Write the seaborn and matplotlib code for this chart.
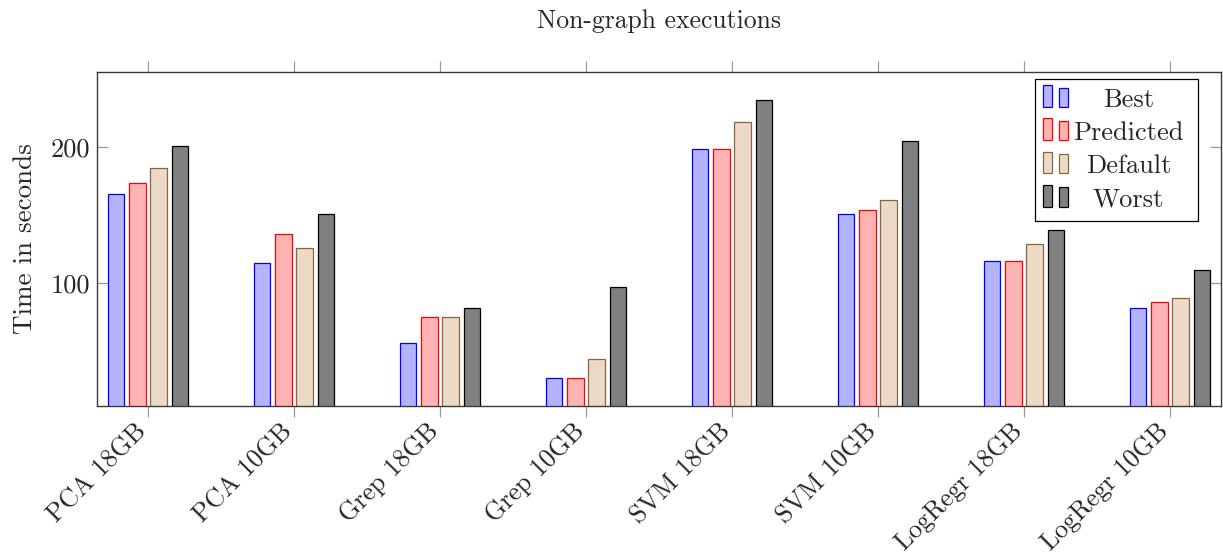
import matplotlib
matplotlib.use("Agg")
import numpy as np
import pandas as pd
import matplotlib.pyplot as plt
import seaborn as sns
from matplotlib.patches import Rectangle, Patch
from matplotlib.text import Text
from matplotlib.legend_handler import HandlerBase

# ---- data -------------------------------------------------------------
benchmarks = ["PCA 18GB", "PCA 10GB", "Grep 18GB", "Grep 10GB",
              "SVM 18GB", "SVM 10GB", "LogRegr 18GB", "LogRegr 10GB"]
configs = ["Best", "Predicted", "Default", "Worst"]

best = [166, 115, 56, 30, 199, 151, 116, 82]
predicted = [174, 136, 75, 30, 199, 154, 116, 86]
default = [185, 126, 75, 44, 219, 161, 129, 89]
worst = [201, 151, 82, 97, 235, 205, 139, 110]

y_ticks = [100, 200]

# ---- styling ----------------------------------------------------------
fills = ["#B3B3FF", "#FFB3B3", "#ECD9C6", "#808080"]
edges = ["#0000FF", "#FF0000", "#8A6540", "#000000"]

sns.set_style("white")
plt.rcParams.update({
    "font.family": ["cmr10", "DejaVu Serif"],
    "mathtext.fontset": "cm",
    "axes.formatter.use_mathtext": True,
    "font.size": 19,
    "axes.titlesize": 18.5,
    "axes.labelsize": 19.5,
    "xtick.labelsize": 18.6,
    "ytick.labelsize": 19,
    "legend.fontsize": 19,
    "axes.unicode_minus": False,
})

df = pd.DataFrame({
    "Benchmark": np.tile(benchmarks, len(configs)),
    "Config": np.repeat(configs, len(benchmarks)),
    "Time": best + predicted + default + worst,
})

fig = plt.figure(figsize=(12.23, 5.54), dpi=100)
ax = fig.add_axes([97 / 1223, 148 / 554, 1124 / 1223, 334 / 554])

sns.barplot(data=df, x="Benchmark", y="Time", hue="Config",
            order=benchmarks, hue_order=configs, palette=fills,
            saturation=1, width=0.584, gap=0.22, errorbar=None,
            linewidth=0.9, legend=False, ax=ax)

for container, ec in zip(ax.containers, edges):
    for bar in container:
        bar.set_edgecolor(ec)
        bar.set_linewidth(0.9)

ax.set_xlim(-0.35, len(benchmarks) - 0.65)
ax.set_ylim(9.5, 255.5)

ax.set_yticks(y_ticks)
ax.set_yticklabels([str(v) for v in y_ticks])
ax.set_xticks(range(len(benchmarks)))
ax.set_xticklabels(benchmarks, rotation=45, ha="right", va="baseline",
                   rotation_mode="anchor")

ax.tick_params(axis="x", direction="out", length=8, width=0.9,
               color="#9a9a9a", top=True, bottom=True, pad=11)
ax.tick_params(axis="y", direction="in", length=8, width=0.9,
               color="#9a9a9a", left=True, right=True, pad=5)

for sp in ax.spines.values():
    sp.set_color("#3a3a3a")
    sp.set_linewidth(1.0)

ax.set_xlabel("")
ax.set_ylabel("Time in seconds")
ax.yaxis.set_label_coords(-0.0534, 0.5)
ax.set_title("Non-graph executions", pad=32)


# ---- legend: two small bars per entry, label centred ------------------
class PairedBarHandler(HandlerBase):
    def create_artists(self, legend, orig_handle, xdescent, ydescent,
                       width, height, fontsize, trans):
        fc = orig_handle.get_facecolor()
        ec = orig_handle.get_edgecolor()
        r1 = Rectangle((-0.6, 0), 6.3, 15.8, facecolor=fc, edgecolor=ec,
                       linewidth=0.9, transform=trans)
        r2 = Rectangle((10.9, 0), 6.5, 14.0, facecolor=fc, edgecolor=ec,
                       linewidth=0.9, transform=trans)
        t = Text(60.7, 0, orig_handle.get_label(), ha="center",
                 va="baseline", fontsize=fontsize, transform=trans)
        return [r1, r2, t]


handles = [Patch(facecolor=f, edgecolor=e, label=c)
           for f, e, c in zip(fills, edges, configs)]
leg = ax.legend(handles, [""] * len(handles),
                handler_map={Patch: PairedBarHandler()},
                loc="upper right", bbox_to_anchor=(0.9795, 0.979),
                borderaxespad=0, borderpad=0.35, handlelength=5.48,
                handleheight=0.7, handletextpad=0, labelspacing=0.36,
                fancybox=False, framealpha=1, edgecolor="black")
leg.get_frame().set_linewidth(0.9)

fig.savefig("out.png", dpi=100)
